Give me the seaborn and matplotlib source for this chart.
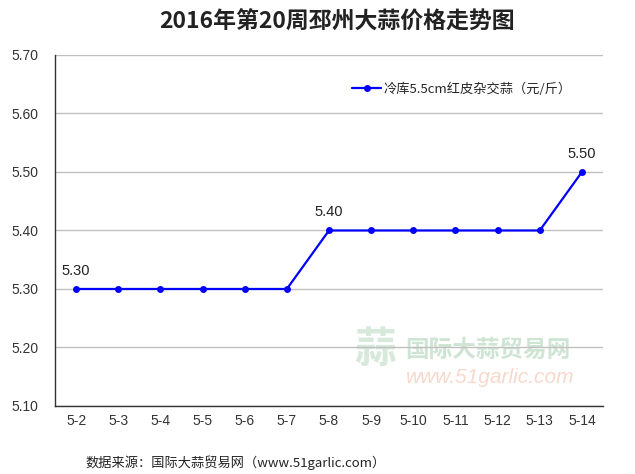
import matplotlib
matplotlib.use("Agg")
import matplotlib.pyplot as plt
import seaborn as sns
import pandas as pd

dates = ["5-2", "5-3", "5-4", "5-5", "5-6", "5-7", "5-8",
         "5-9", "5-10", "5-11", "5-12", "5-13", "5-14"]
prices = [5.30, 5.30, 5.30, 5.30, 5.30, 5.30, 5.40,
          5.40, 5.40, 5.40, 5.40, 5.40, 5.50]
label_idx = [0, 6, 12]
yticks = [5.10, 5.20, 5.30, 5.40, 5.50, 5.60, 5.70]

series_name = "冷库5.5cm红皮杂交蒜（元/斤）"
title = "2016年第20周邳州大蒜价格走势图"
source = "数据来源：国际大蒜贸易网（www.51garlic.com）"

sns.set_style("white")
plt.rcParams["font.family"] = ["Liberation Sans", "Noto Sans CJK SC", "DejaVu Sans"]
cjk = ["Noto Sans CJK SC", "DejaVu Sans"]

df = pd.DataFrame({"x": range(len(dates)), "price": prices})

fig = plt.figure(figsize=(6.35, 4.74), dpi=100)
ax = fig.add_axes([0.0866, 0.1435, 0.863, 0.7405])

sns.lineplot(data=df, x="x", y="price", ax=ax, color="#0000ff", linewidth=1.6,
             marker="o", markersize=5, markeredgewidth=0, label=series_name)

for i in label_idx:
    ax.annotate(f"{prices[i]:.2f}", (i, prices[i]), xytext=(0, 8),
                textcoords="offset points", ha="center", va="bottom",
                fontsize=10.5, color="#222222")

ax.set_xlim(-0.5, len(dates) - 0.5)
ax.set_ylim(5.10, 5.70)
ax.set_xticks(range(len(dates)))
ax.set_xticklabels(dates)
ax.set_yticks(yticks)
ax.set_yticklabels([f"{v:.2f}" for v in yticks])
ax.tick_params(axis="both", length=0, labelsize=10, colors="#333333")
ax.tick_params(axis="x", pad=6)
ax.tick_params(axis="y", pad=12)
ax.set_xlabel("")
ax.set_ylabel("")
ax.yaxis.grid(True, color="#c0c0c0", linewidth=1)
ax.xaxis.grid(False)
for s in ["top", "right"]:
    ax.spines[s].set_visible(False)
for s in ["left", "bottom"]:
    ax.spines[s].set_color("#333333")
    ax.spines[s].set_linewidth(1)

leg = ax.legend(loc="upper right", bbox_to_anchor=(0.965, 0.955), frameon=False,
                prop={"family": cjk, "size": 9.5}, handlelength=2.2,
                handletextpad=0.2)

# watermark
ax.text(0.545, 0.125, "蒜", transform=ax.transAxes, fontsize=30,
        color="#d6e9da", family=cjk, fontweight="bold", zorder=0)
ax.text(0.64, 0.14, "国际大蒜贸易网", transform=ax.transAxes, fontsize=17,
        color="#cfe5d3", family=cjk, fontweight="bold", zorder=0)
ax.text(0.64, 0.065, "www.51garlic.com", transform=ax.transAxes, fontsize=15,
        color="#f8d8cc", style="italic", zorder=0)

fig.text(0.531, 0.953, title, ha="center", va="center", fontsize=16.5,
         family=cjk, fontweight="semibold", color="#222222")
fig.text(0.134, 0.023, source, ha="left", va="center", fontsize=9.5,
         family=cjk, color="#222222")

fig.savefig("out.png", dpi=100)
